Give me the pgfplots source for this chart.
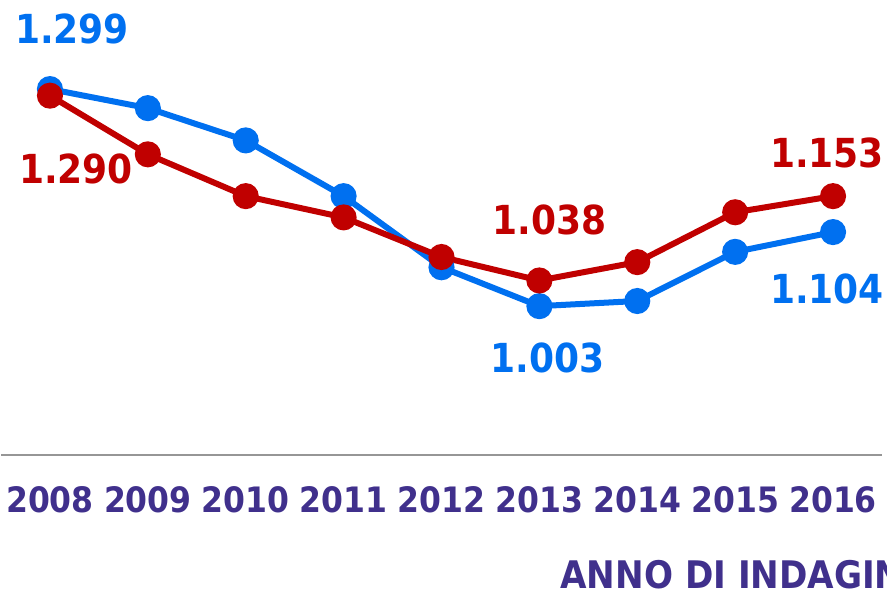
\documentclass[border=0pt]{standalone}
\usepackage{fontspec}
\setmainfont{DejaVu Sans Condensed}
\usepackage{pgfplots}
\pgfplotsset{compat=1.18}
\definecolor{serieblu}{RGB}{0,112,240}
\definecolor{serierossa}{RGB}{192,0,0}
\definecolor{anni}{RGB}{64,48,140}
\definecolor{asse}{RGB}{150,150,150}

\begin{document}
\begin{tikzpicture}
\useasboundingbox (-1pt,-137pt) rectangle (886pt,455pt);
\clip (-1pt,-137pt) rectangle (886pt,455pt);
\begin{axis}[
  at={(0pt,0pt)}, anchor=south west,
  width=881pt, height=440pt, scale only axis,
  xmin=-0.5, xmax=8.5, ymin=0.8, ymax=1.4,
  axis x line*=bottom, axis y line=none,
  x axis line style={-, draw=asse, line width=2pt},
  xtick={0,...,8}, major tick length=0pt,
  xticklabels={2008,2009,2010,2011,2012,2013,2014,2015,2016},
  xticklabel style={anchor=base, yshift=-57pt, font=\fontsize{35}{38}\selectfont\bfseries, text=anni},
  xlabel={ANNO DI INDAGINE},
  xlabel style={at={(rel axis cs:0.631,0)}, anchor=base west, yshift=-133pt,
    font=\fontsize{38}{40}\selectfont\bfseries, text=anni},
  ytick=\empty,
  clip=false,
  every axis plot/.append style={line width=6pt, mark=*, mark size=10pt,
    mark options={line width=0pt}},
]
\addplot[serieblu, mark options={fill=serieblu, draw=serieblu}] coordinates {
  (0,1.299) (1,1.273) (2,1.229) (3,1.153) (4,1.056)
  (5,1.003) (6,1.010) (7,1.077) (8,1.104)};
\addplot[serierossa, mark options={fill=serierossa, draw=serierossa}] coordinates {
  (0,1.290) (1,1.210) (2,1.153) (3,1.124) (4,1.070)
  (5,1.038) (6,1.063) (7,1.131) (8,1.153)};

\begin{scope}[every node/.style={inner sep=0pt, anchor=center,
    font=\fontsize{40}{42}\selectfont\bfseries}]
\node[text=serieblu]   at ([shift={(22pt,60pt)}]axis cs:0,1.299)  {1.299};
\node[text=serierossa] at ([shift={(26pt,-73pt)}]axis cs:0,1.290) {1.290};
\node[text=serierossa] at ([shift={(10pt,61pt)}]axis cs:5,1.038)  {1.038};
\node[text=serieblu]   at ([shift={(8pt,-52pt)}]axis cs:5,1.003)  {1.003};
\node[text=serierossa] at ([shift={(-6pt,43pt)}]axis cs:8,1.153)  {1.153};
\node[text=serieblu]   at ([shift={(-6pt,-57pt)}]axis cs:8,1.104) {1.104};
\end{scope}
\end{axis}
\end{tikzpicture}
\end{document}
